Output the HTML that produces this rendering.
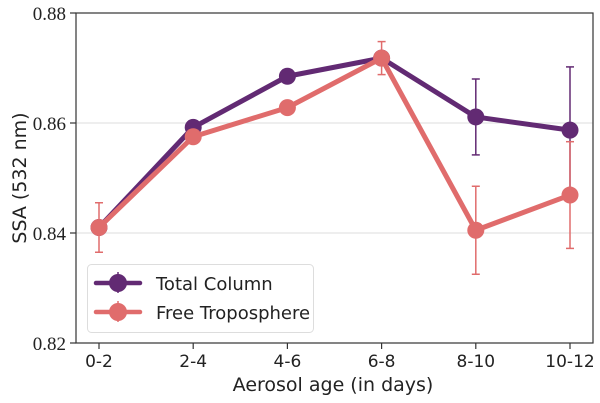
<!DOCTYPE html>
<html><head><meta charset="utf-8"><style>
body{margin:0;background:#fff}
svg{display:block;font-family:"DejaVu Sans","Liberation Sans",sans-serif}
</style></head><body>
<svg id="chart" width="600" height="403">
<g id="grid"></g>
<g id="series"></g>
<rect x="76" y="13" width="517" height="330" fill="none" stroke="#333" stroke-width="1.2"/>
<g id="axes"></g>
<text x="333" y="391" text-anchor="middle" font-size="19" fill="#222">Aerosol age (in days)</text>
<text transform="translate(26,178) rotate(-90)" text-anchor="middle" font-size="19" fill="#222">SSA (532 nm)</text>
<g>
<rect x="87.5" y="264.5" width="226" height="68" rx="4" fill="#fff" fill-opacity="0.85" stroke="#ddd"/>
<g>
<line x1="96" y1="283" x2="140" y2="283" stroke="#622a73" stroke-width="4.5" stroke-linecap="round"/>
<line x1="118" y1="272" x2="118" y2="293" stroke="#622a73" stroke-width="1.5"/>
<circle cx="118" cy="283" r="9" fill="#622a73"/>
<text x="156" y="290" font-size="18" fill="#222">Total Column</text></g>
<g>
<line x1="96" y1="312" x2="140" y2="312" stroke="#e06c6c" stroke-width="4.5" stroke-linecap="round"/>
<line x1="118" y1="301" x2="118" y2="322" stroke="#e06c6c" stroke-width="1.5"/>
<circle cx="118" cy="312" r="9" fill="#e06c6c"/>
<text x="156" y="319" font-size="18" fill="#222">Free Troposphere</text></g>
</g>
</svg>
<script>
const categories=["0-2","2-4","4-6","6-8","8-10","10-12"];
const totalColumn=[0.841,0.8592,0.8685,0.8718,0.8611,0.8587];
const totalColumnErr=[0.0005,0.0007,0.0012,0.0008,0.0069,0.0115];
const freeTrop=[0.841,0.8575,0.8628,0.8718,0.8405,0.8469];
const freeTropErr=[0.0045,0.0008,0.0012,0.003,0.008,0.0097];
const yTicks=[0.82,0.84,0.86,0.88];
const yTickLabels=["0.82","0.84","0.86","0.88"];
const NS="http://www.w3.org/2000/svg";
function x(i){return 99+i*94.2;}
function y(v){return 343-(v-0.82)/0.06*330;}
function mk(tag,attrs,parent){const e=document.createElementNS(NS,tag);for(const k in attrs)e.setAttribute(k,attrs[k]);parent.appendChild(e);return e;}
const grid=document.getElementById('grid'),axes=document.getElementById('axes'),ser=document.getElementById('series');
yTicks.forEach((t,i)=>{
 if(i>0&&i<yTicks.length-1){const g=mk('line',{x1:76,x2:593,y1:y(t),y2:y(t),stroke:'#ddd','stroke-width':1},grid);
 
 }
 const tk=mk('line',{x1:70,x2:76,y1:y(t),y2:y(t),stroke:'#333','stroke-width':1.2},axes);
 
 
 const tl=mk('text',{x:66,y:y(t)+7,'text-anchor':'end','font-size':19,fill:'#222','font-family':'Liberation Serif, serif'},axes);
 tl.textContent=yTickLabels[i];
 
 
});
categories.forEach((c,i)=>{
 const tk=mk('line',{x1:x(i),x2:x(i),y1:343,y2:349,stroke:'#333','stroke-width':1.2},axes);
 
 
 const tl=mk('text',{x:x(i),y:367,'text-anchor':'middle','font-size':17,fill:'#222'},axes);
 tl.textContent=c;
 
 
});
function drawSeries(vals,errs,color,name){
 const g=mk('g',{},ser);
 
 
 const pl=mk('polyline',{points:vals.map((v,i)=>x(i)+','+y(v)).join(' '),fill:'none',stroke:color,'stroke-width':5,'stroke-linejoin':'round'},g);
 
 
 vals.forEach((v,i)=>{
  const e=mk('g',{stroke:color,'stroke-width':1.5},g);
  
  
  mk('line',{x1:x(i),x2:x(i),y1:y(v+errs[i]),y2:y(v-errs[i])},e);
  mk('line',{x1:x(i)-4,x2:x(i)+4,y1:y(v+errs[i]),y2:y(v+errs[i])},e);
  mk('line',{x1:x(i)-4,x2:x(i)+4,y1:y(v-errs[i]),y2:y(v-errs[i])},e);
  const c=mk('circle',{cx:x(i),cy:y(v),r:8.5,fill:color},g);
  
  
 });
}
drawSeries(totalColumn,totalColumnErr,'#622a73','total-column');
drawSeries(freeTrop,freeTropErr,'#e06c6c','free-troposphere');
</script>
</body></html>
